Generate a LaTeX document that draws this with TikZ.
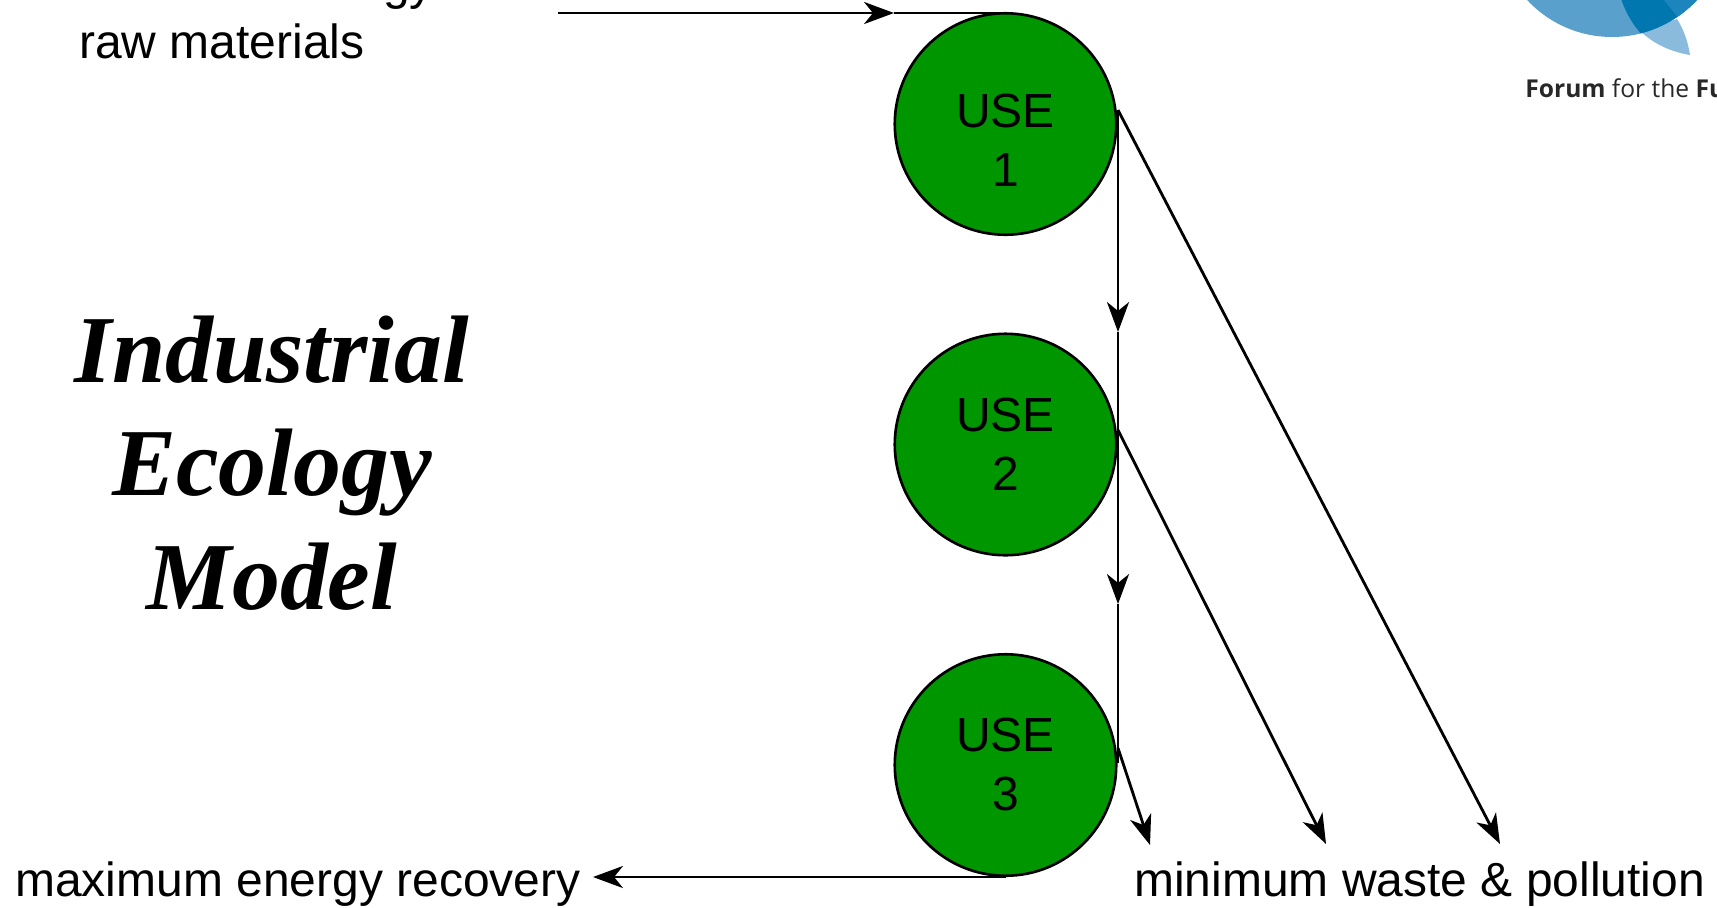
\documentclass[tikz,border=0pt]{standalone}
\usepackage{fontspec}
\setmainfont{Liberation Sans}
\newfontfamily\titlefont{Liberation Serif}
\newfontfamily\logofont{Open Sans}
\usetikzlibrary{arrows.meta}
\definecolor{usegreen}{RGB}{0,150,0}
\definecolor{logomid}{RGB}{90,160,205}
\definecolor{logodark}{RGB}{0,120,175}
\definecolor{logoedge}{RGB}{28,133,189}
\definecolor{logotail}{RGB}{138,187,221}
\definecolor{logotext}{RGB}{40,40,40}
\begin{document}
\begin{tikzpicture}[
        x=0.02cm,y=-0.02cm,
        usecircle/.style={circle,draw=black,fill=usegreen,line width=1.5pt,minimum size=4.43cm,inner sep=0pt,outer sep=0pt},
        usetext/.style={align=center,inner sep=0pt,font={\fontsize{27.3}{33.6}\selectfont}},
        lbl/.style={inner sep=0pt,anchor=base west,font={\fontsize{27.3}{33.2}\selectfont}},
        edge/.style={line width=1.6pt},
        flow/.style={edge,-{Stealth[length=17pt,width=12.5pt,inset=5pt]}}
        ]
        \useasboundingbox (0,0) rectangle (1717,907);
        \clip (0,0) rectangle (1717,907);

        % logo
        \fill[logotail] (1640,31) .. controls (1655,45) and (1672,52) .. (1690,55) .. controls (1688,42) and (1684,30) .. (1677,19) -- cycle;
        \begin{scope}
            \clip (1612,-79) circle[radius=116];
            \fill[logomid] (1490,-10) rectangle (1730,40);
            \fill[logodark] (1620,-5) .. controls (1624,10) and (1632,24) .. (1643,36) -- (1720,36) -- (1720,-5) -- cycle;
            \fill[logoedge] (1660,-5) -- (1680,20) -- (1720,20) -- (1720,-5) -- cycle;
        \end{scope}
        \node[inner sep=0pt,anchor=base west,text=logotext,font={\logofont\fontsize{14}{16}\selectfont}] (logoname) at (1525,97) {\textbf{Forum} for the \textbf{Fu}};

        \node[usecircle] (use1) at (1005.5,124){};
        \node[usecircle] (use2) at (1005.5,444.5){};
        \node[usecircle] (use3) at (1005.5,765){};

        \node[usetext] (text1) at (1005.5,140){USE\\1};
        \node[usetext] (text2) at (1005.5,444){USE\\2};
        \node[usetext] (text3) at (1005.5,764){USE\\3};

        \node[inner sep=0pt,align=center,font={\titlefont\bfseries\itshape\fontsize{54.6}{64.6}\selectfont}] (title) at (272,463) {Industrial\\Ecology\\Model};

        \node[lbl,align=left] (rawin) at (79,58) {minimum energy and\\raw materials};
        \node[lbl] (recovery) at (15,896) {maximum energy recovery};
        \node[lbl] (waste) at (1134,896) {minimum waste \& pollution};

        \coordinate (instart) at (558,13);
        \coordinate (intip) at (894,13);
        \coordinate (intop) at (1005.5,13);
        \coordinate (tap1) at (1118,110);
        \coordinate (tip1) at (1118,332);
        \coordinate (tap2) at (1118,430);
        \coordinate (tip2) at (1118,604);
        \coordinate (tap3) at (1118,748);
        \coordinate (vend) at (1118,763);
        \coordinate (out1) at (1500,844);
        \coordinate (out2) at (1326,844);
        \coordinate (out3) at (1150,845);
        \coordinate (backtip) at (593,877);
        \coordinate (backstart) at (1005.5,877);

        \draw[flow] (instart) -- (intip);
        \draw[edge] (intip) -- (intop);

        \draw[flow] (tap1) -- (tip1);
        \draw[edge] (tip1) -- (tap2);
        \draw[flow] (tap2) -- (tip2);
        \draw[edge] (tip2) -- (vend);

        \draw[flow] (tap1) -- (out1);
        \draw[flow] (tap2) -- (out2);
        \draw[flow] (tap3) -- (out3);

        \draw[flow] (backstart) -- (backtip);
    \end{tikzpicture}
\end{document}
